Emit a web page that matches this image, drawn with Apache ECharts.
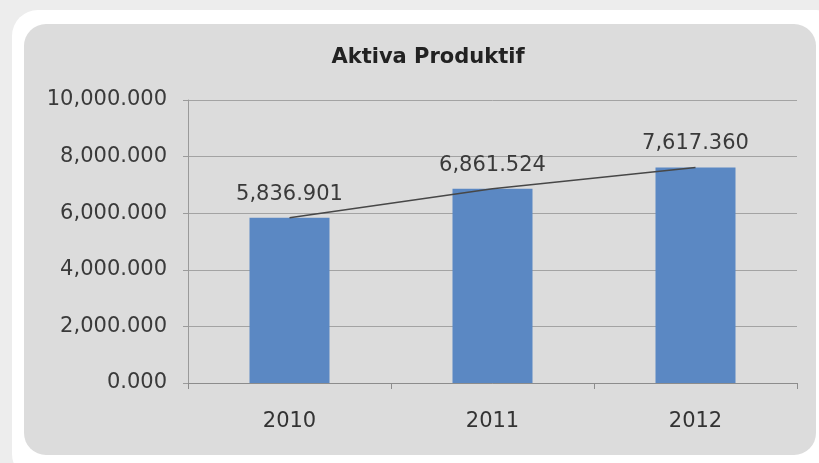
<!DOCTYPE html>
<html>
<head>
<meta charset="utf-8">
<script src="https://cdn.jsdelivr.net/npm/echarts@6/dist/echarts.min.js"></script>
<style>
  html, body { margin: 0; padding: 0; background: #ededed; }
  #chart { width: 819px; height: 463px; }
</style>
</head>
<body>
<div id="chart"></div>
<script>
// Aktiva Produktif, 2010-2012
const years = ['2010', '2011', '2012'];
const aktivaProduktif = [5836.901, 6861.524, 7617.360];
const yTicks = [0, 2000, 4000, 6000, 8000, 10000];

const FONT = 'DejaVu Sans';

// 1234.5 -> "1,234.500"
function fmt(v) {
  const parts = v.toFixed(3).split('.');
  parts[0] = parts[0].replace(/\B(?=(\d{3})+(?!\d))/g, ',');
  return parts.join('.');
}

const chart = echarts.init(document.getElementById('chart'), null, { renderer: 'canvas' });

chart.setOption({
  backgroundColor: '#ededed',
  animation: false,
  graphic: [
    // white frame
    { type: 'rect', z: -10, silent: true,
      shape: { x: 12, y: 10, width: 830, height: 470, r: 26 },
      style: { fill: '#ffffff' } },
    // grey chart panel
    { type: 'rect', z: -9, silent: true,
      shape: { x: 24, y: 24, width: 792, height: 431, r: 22 },
      style: { fill: '#dcdcdc' } }
  ],
  title: {
    text: 'Aktiva Produktif',
    left: 423,
    top: 42,
    textAlign: 'center',
    textStyle: { fontFamily: FONT, fontSize: 21, fontWeight: 'bold', color: '#222222' }
  },
  grid: { left: 188, right: 22, top: 100, bottom: 80, containLabel: false },
  xAxis: {
    type: 'category',
    data: years,
    boundaryGap: true,
    axisLine: { show: true, lineStyle: { color: '#8c8c8c', width: 1 } },
    axisTick: { show: true, length: 6, alignWithLabel: false, lineStyle: { color: '#8c8c8c' } },
    axisLabel: { margin: 28, fontFamily: FONT, fontSize: 21, color: '#333333' },
    splitLine: { show: false }
  },
  yAxis: {
    type: 'value',
    min: yTicks[0],
    max: yTicks[yTicks.length - 1],
    interval: yTicks[1] - yTicks[0],
    axisLine: { show: true, lineStyle: { color: '#9a9a9a', width: 1 } },
    axisTick: { show: true, length: 5, lineStyle: { color: '#9a9a9a' } },
    axisLabel: { margin: 21, fontFamily: FONT, fontSize: 21, color: '#3a3a3a', formatter: fmt },
    splitLine: { show: true, lineStyle: { color: '#a3a3a3', width: 1 } }
  },
  series: [
    {
      type: 'bar',
      data: aktivaProduktif,
      barWidth: 80,
      itemStyle: { color: '#5b88c3' },
      label: {
        show: true,
        position: 'top',
        distance: 13,
        fontFamily: FONT,
        fontSize: 21,
        color: '#3a3a3a',
        formatter: p => fmt(p.value)
      },
      z: 2
    },
    {
      type: 'line',
      data: aktivaProduktif,
      showSymbol: false,
      symbol: 'none',
      lineStyle: { color: '#474747', width: 1.5 },
      z: 3
    }
  ]
});
</script>
</body>
</html>
